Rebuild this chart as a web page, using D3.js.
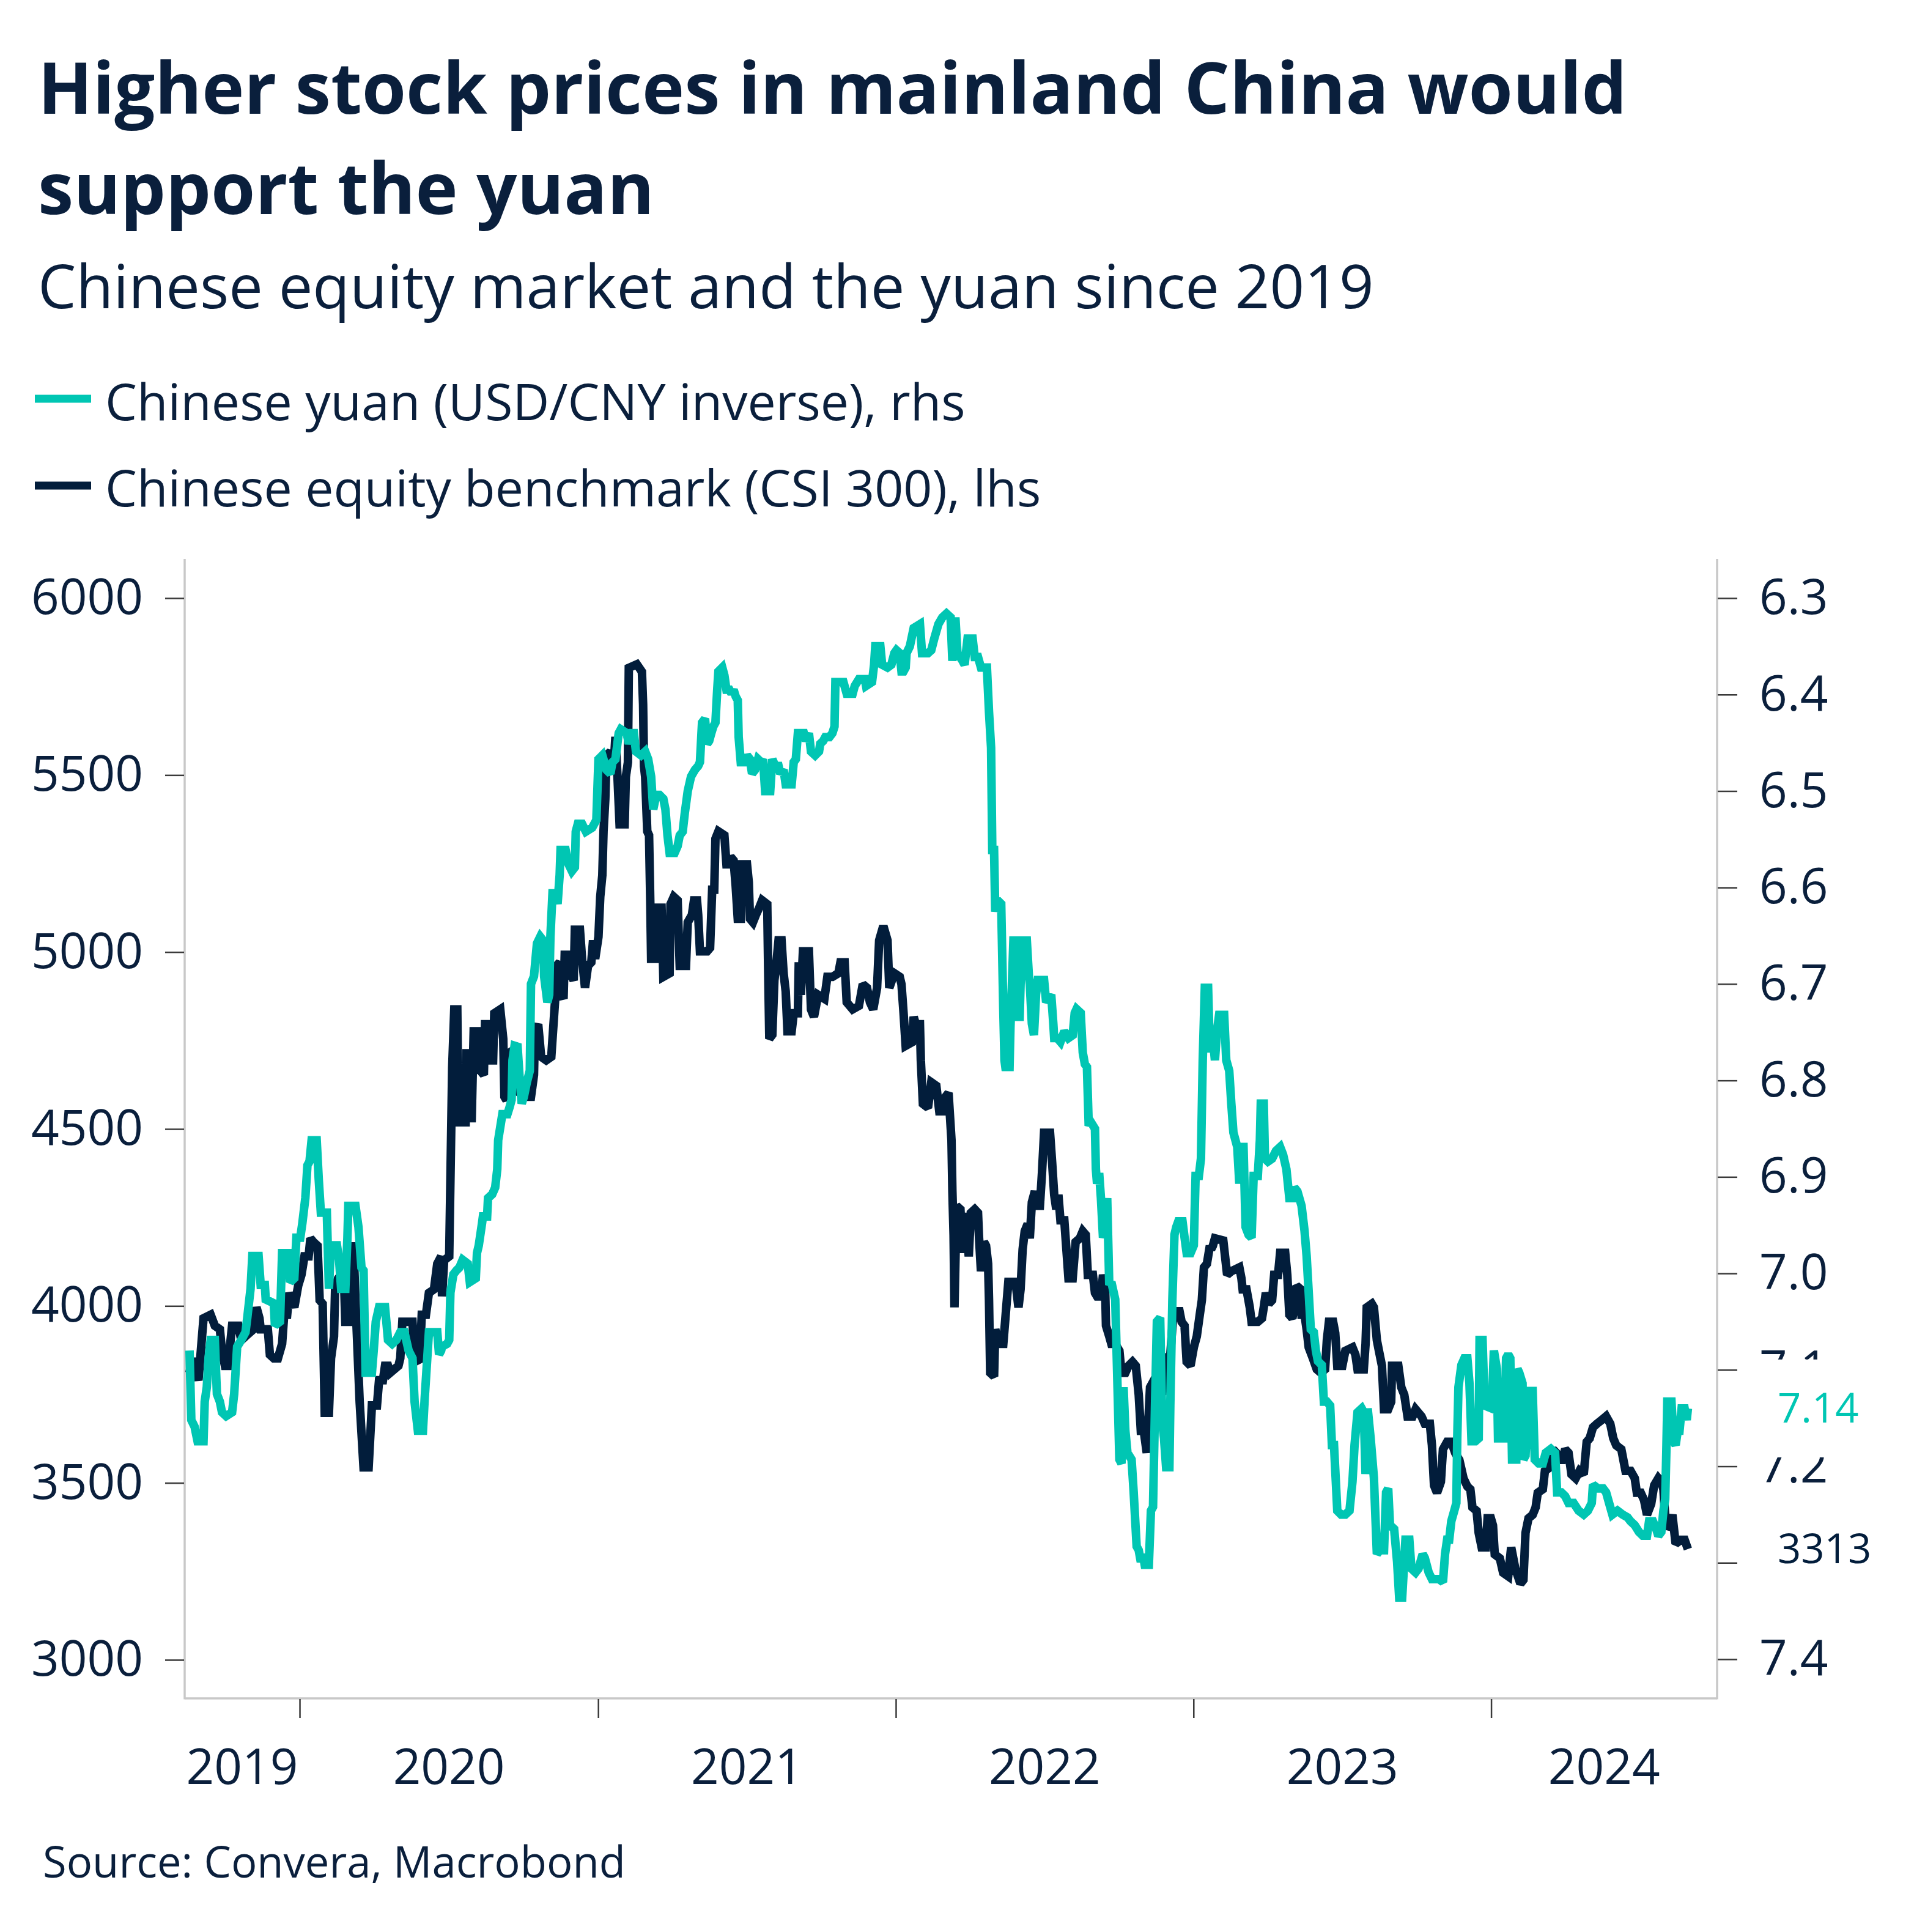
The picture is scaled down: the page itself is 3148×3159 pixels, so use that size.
<!DOCTYPE html>
<html><head><meta charset="utf-8">
<script src="https://cdn.jsdelivr.net/npm/d3@7"></script>
<style>body{margin:0;background:#fff}svg{display:block}text{font-family:'Open Sans',sans-serif}</style>
</head><body>
<svg id="chart" width="3148" height="3159"></svg>
<script>
const titleLines = ["Higher stock prices in mainland China would", "support the yuan"];
const subtitle = "Chinese equity market and the yuan since 2019";
const seriesNames = ["Chinese yuan (USD/CNY inverse), rhs", "Chinese equity benchmark (CSI 300), lhs"];
const sourceNote = "Source: Convera, Macrobond";
const yearLabels = ["2019", "2020", "2021", "2022", "2023", "2024"];
const yearTicks = ["2020-01-01", "2021-01-01", "2022-01-01", "2023-01-01", "2024-01-01"];
const xDomain = ["2019-08-13", "2024-10-04"];
const leftTicks = [3000, 3500, 4000, 4500, 5000, 5500, 6000];
const rightTicks = [6.3, 6.4, 6.5, 6.6, 6.7, 6.8, 6.9, 7.0, 7.1, 7.2, 7.3, 7.4];
const hiddenRightLabels = [7.3]; // fully covered by the end-value label in the original

// CSI 300 index level, [decimal year, value]
const csi = [
[2019.630,3811],[2019.640,3852],[2019.660,3790],[2019.677,3965],[2019.701,3975],[2019.715,3944],[2019.732,3934],[2019.739,3873],[2019.749,3831],[2019.759,3831],[2019.773,3944],[2019.794,3944],[2019.804,3903],[2019.818,3914],[2019.845,3934],[2019.855,3996],[2019.865,3965],[2019.869,3934],[2019.893,3934],[2019.900,3862],[2019.913,3852],[2019.927,3852],[2019.941,3893],[2019.948,3975],[2019.958,3975],[2019.965,4037],[2019.982,3996],[2019.995,4057],[2020.006,4088],[2020.016,4140],[2020.030,4140],[2020.036,4191],[2020.047,4180],[2020.060,4170],[2020.067,4016],[2020.077,4006],[2020.084,3698],[2020.098,3698],[2020.105,3852],[2020.115,3914],[2020.119,4057],[2020.129,4078],[2020.139,4088],[2020.146,4140],[2020.153,3955],[2020.170,3955],[2020.180,4180],[2020.187,4016],[2020.201,3729],[2020.214,3544],[2020.231,3544],[2020.242,3719],[2020.259,3719],[2020.266,3790],[2020.279,3790],[2020.286,3831],[2020.296,3831],[2020.303,3811],[2020.331,3831],[2020.337,3852],[2020.344,3955],[2020.378,3955],[2020.385,3852],[2020.402,3842],[2020.409,3975],[2020.423,3975],[2020.433,4037],[2020.450,4047],[2020.461,4119],[2020.474,4140],
[2020.477,4027],[2020.484,4129],[2020.501,4140],[2020.511,4673],[2020.518,4838],[2020.528,4838],[2020.532,4519],[2020.556,4519],[2020.559,4714],[2020.570,4714],[2020.576,4519],[2020.583,4776],[2020.600,4776],[2020.607,4663],[2020.617,4653],[2020.621,4796],[2020.634,4796],[2020.638,4694],[2020.648,4694],[2020.652,4827],[2020.672,4838],[2020.682,4755],[2020.686,4591],[2020.693,4581],[2020.700,4714],[2020.720,4725],[2020.727,4694],[2020.737,4602],[2020.754,4591],[2020.775,4591],[2020.785,4653],[2020.788,4776],[2020.799,4796],[2020.809,4704],[2020.826,4694],[2020.843,4704],[2020.857,4879],[2020.860,4961],[2020.871,4971],[2020.877,4879],[2020.884,4868],[2020.888,4992],[2020.905,4992],[2020.912,4930],[2020.918,4920],[2020.922,5063],[2020.939,5063],[2020.946,4981],[2020.956,4899],[2020.966,4961],[2020.977,4971],[2020.983,5033],[2020.990,4981],[2021.001,5043],[2021.007,5156],[2021.014,5217],[2021.018,5341],[2021.024,5433],[2021.028,5556],[2021.041,5566],[2021.048,5525],[2021.055,5566],[2021.058,5608],[2021.065,5495],[2021.072,5361],[2021.089,5361],[2021.093,5495],[2021.100,5536],[2021.103,5803],[2021.130,5813],[2021.147,5792],[2021.151,5700],[2021.154,5525],[2021.158,5495],[2021.165,5341],[2021.171,5330],[2021.175,5146],[2021.178,4981],[2021.199,4981],[2021.202,5125],[2021.213,5125],[2021.219,4930],[2021.240,4940],[2021.243,5135],[2021.254,5156],[2021.267,5146],[2021.274,4961],[2021.295,4961],[2021.301,5084],[2021.315,5105],[2021.322,5146],[2021.332,5146],[2021.336,5105],
[2021.342,5002],[2021.366,5002],[2021.376,5012],[2021.383,5176],[2021.390,5176],[2021.394,5320],[2021.404,5341],[2021.424,5330],[2021.431,5248],[2021.438,5248],[2021.445,5269],[2021.455,5259],[2021.462,5187],[2021.469,5094],[2021.479,5094],[2021.482,5248],[2021.500,5248],[2021.506,5197],[2021.510,5094],[2021.520,5084],[2021.530,5105],[2021.541,5125],[2021.551,5146],[2021.568,5135],[2021.571,4961],[2021.575,4755],[2021.585,4766],[2021.592,4920],[2021.599,4971],[2021.606,5033],[2021.616,5033],[2021.623,4940],[2021.630,4889],[2021.636,4776],[2021.650,4776],[2021.657,4827],[2021.671,4827],[2021.674,4971],[2021.681,4879],[2021.688,5002],[2021.708,5002],[2021.715,4838],[2021.725,4817],[2021.739,4879],[2021.760,4868],[2021.770,4930],[2021.787,4930],[2021.807,4940],[2021.814,4971],[2021.828,4971],[2021.835,4858],[2021.855,4838],[2021.876,4848],[2021.889,4909],[2021.903,4899],[2021.913,4858],[2021.924,4838],[2021.937,4899],[2021.944,5033],[2021.958,5074],[2021.972,5033],[2021.978,4899],[2021.995,4940],[2022.013,4930],[2022.019,4909],[2022.026,4827],[2022.033,4735],[2022.054,4745],[2022.060,4817],[2022.067,4796],[2022.081,4796],[2022.084,4694],[2022.091,4571],[2022.108,4560],[2022.119,4632],[2022.136,4622],[2022.146,4550],[2022.156,4550],[2022.167,4591],[2022.177,4602],[2022.187,4468],[2022.190,4324],[2022.194,4201],[2022.197,3996],
[2022.204,4283],[2022.217,4273],[2022.224,4150],[2022.235,4263],[2022.245,4140],[2022.252,4263],[2022.265,4273],[2022.276,4263],[2022.279,4201],[2022.286,4098],[2022.296,4181],[2022.303,4170],[2022.310,4119],[2022.313,4016],[2022.317,3811],[2022.330,3801],[2022.334,3934],[2022.344,3893],[2022.361,3893],[2022.368,3965],[2022.378,4068],[2022.402,4068],[2022.412,3996],[2022.419,4047],[2022.426,4160],[2022.433,4211],[2022.443,4232],[2022.450,4191],[2022.457,4293],[2022.467,4324],[2022.474,4283],[2022.484,4283],[2022.491,4376],[2022.498,4489],[2022.518,4489],[2022.525,4406],[2022.532,4314],[2022.539,4273],[2022.546,4314],[2022.553,4242],[2022.566,4242],[2022.573,4160],[2022.580,4078],[2022.594,4078],[2022.604,4181],[2022.618,4191],[2022.628,4211],[2022.638,4201],[2022.645,4088],[2022.662,4088],[2022.669,4037],[2022.676,4027],[2022.689,4027],[2022.696,4088],[2022.703,4057],[2022.706,3944],[2022.717,3914],[2022.724,3893],[2022.737,3893],[2022.751,3873],[2022.758,3811],[2022.771,3811],[2022.782,3831],[2022.795,3842],[2022.806,3831],[2022.816,3749],[2022.823,3647],[2022.833,3647],[2022.843,3585],[2022.854,3770],[2022.867,3790],[2022.881,3780],[2022.895,3749],[2022.901,3831],[2022.908,3852],[2022.922,3862],[2022.932,3975],[2022.936,3985],[2022.953,3985],[2022.960,3955],[2022.970,3944],[2022.977,3842],[2022.990,3831],[2023.001,3883],[2023.011,3914],[2023.021,3975],[2023.028,4016],[2023.035,4109],[2023.045,4119],[2023.055,4170],
[2023.059,4160],[2023.065,4170],[2023.072,4191],[2023.100,4185],[2023.106,4140],[2023.113,4088],[2023.127,4098],[2023.154,4109],[2023.161,4078],[2023.165,4047],[2023.178,4047],[2023.189,3996],[2023.195,3955],[2023.216,3955],[2023.230,3965],[2023.236,3996],[2023.243,4037],[2023.253,4006],[2023.264,4016],[2023.271,4088],[2023.284,4088],[2023.291,4150],[2023.308,4150],[2023.315,4088],[2023.322,3975],[2023.332,3965],[2023.339,3996],[2023.346,4057],[2023.360,4047],[2023.363,3975],[2023.373,3975],[2023.380,3934],[2023.387,3883],[2023.401,3852],[2023.414,3821],[2023.428,3811],[2023.442,3821],[2023.448,3903],[2023.455,3955],[2023.469,3955],[2023.476,3924],[2023.483,3831],[2023.500,3831],[2023.510,3873],[2023.534,3883],[2023.544,3862],[2023.551,3821],[2023.572,3821],[2023.578,3893],[2023.582,3996],[2023.599,4006],[2023.606,3996],[2023.616,3903],[2023.623,3873],[2023.633,3831],[2023.640,3708],[2023.654,3708],[2023.664,3729],[2023.667,3831],[2023.688,3831],[2023.698,3770],[2023.708,3749],[2023.719,3688],[2023.736,3688],[2023.746,3708],[2023.766,3688],[2023.777,3667],[2023.794,3667],[2023.801,3606],[2023.808,3493],[2023.818,3472],[2023.831,3503],[2023.838,3595],[2023.852,3616],[2023.866,3616],[2023.879,3585],[2023.893,3565],[2023.907,3513],
[2023.920,3490],[2023.930,3482],[2023.937,3431],[2023.951,3421],[2023.958,3359],[2023.968,3318],[2023.982,3318],[2023.988,3400],[2023.999,3400],[2024.006,3380],[2024.012,3298],[2024.029,3287],[2024.040,3246],[2024.057,3236],[2024.067,3318],[2024.081,3257],[2024.098,3215],[2024.108,3226],[2024.115,3359],[2024.125,3400],[2024.139,3410],[2024.149,3431],[2024.156,3472],[2024.173,3482],[2024.180,3534],[2024.197,3544],[2024.207,3595],[2024.218,3585],[2024.228,3565],[2024.238,3565],[2024.248,3595],[2024.259,3585],[2024.269,3524],[2024.283,3513],[2024.296,3534],[2024.310,3524],[2024.320,3616],[2024.330,3626],[2024.341,3657],[2024.354,3667],[2024.371,3678],[2024.385,3688],[2024.399,3667],[2024.409,3626],[2024.419,3606],[2024.436,3595],[2024.450,3534],[2024.467,3534],[2024.481,3513],[2024.488,3472],[2024.501,3472],[2024.512,3452],[2024.522,3410],[2024.536,3441],[2024.546,3493],[2024.560,3513],[2024.570,3503],[2024.577,3482],[2024.580,3441],[2024.587,3370],[2024.601,3390],[2024.607,3410],[2024.618,3328],[2024.635,3339],[2024.648,3339],[2024.659,3313]
];

// USD/CNY rate (plotted on inverted right axis), [decimal year, value]
const cny = [
[2019.630,7.080],[2019.636,7.152],[2019.647,7.159],[2019.657,7.174],[2019.677,7.174],[2019.681,7.133],[2019.688,7.118],[2019.694,7.088],[2019.701,7.069],[2019.715,7.069],[2019.722,7.125],[2019.732,7.133],[2019.739,7.144],[2019.753,7.148],[2019.773,7.144],[2019.780,7.125],[2019.790,7.076],[2019.804,7.069],[2019.818,7.061],[2019.824,7.046],[2019.835,7.016],[2019.841,6.982],[2019.862,6.982],[2019.869,7.012],[2019.883,7.012],[2019.886,7.027],[2019.913,7.031],[2019.917,7.054],[2019.934,7.050],[2019.941,6.979],[2019.961,6.979],[2019.968,7.009],[2019.982,7.005],[2019.989,6.963],[2020.002,6.963],[2020.009,6.948],[2020.019,6.922],[2020.026,6.888],[2020.033,6.884],[2020.040,6.862],[2020.057,6.862],[2020.064,6.903],[2020.071,6.937],[2020.091,6.937],[2020.098,7.016],[2020.105,6.971],[2020.125,6.971],[2020.132,6.986],[2020.139,7.016],[2020.153,7.016],[2020.160,6.963],[2020.163,6.930],[2020.187,6.930],[2020.197,6.952],[2020.207,6.994],[2020.214,6.997],[2020.221,7.103],[2020.242,7.103],[2020.248,7.080],[2020.255,7.050],[2020.266,7.035],[2020.286,7.035],[2020.296,7.069],[2020.310,7.073],[2020.324,7.069],[2020.337,7.061],[2020.351,7.061],[2020.365,7.080],[2020.378,7.088],[2020.385,7.133],[2020.396,7.163],[2020.413,7.163],[2020.419,7.129],[2020.433,7.061],[2020.461,7.061],[2020.467,7.084],[2020.474,7.080],
[2020.477,7.076],[2020.494,7.073],[2020.501,7.069],[2020.505,7.020],[2020.515,7.001],[2020.525,6.997],[2020.535,6.994],[2020.546,6.986],[2020.563,6.990],[2020.570,7.009],[2020.590,7.005],[2020.594,6.979],[2020.600,6.971],[2020.611,6.948],[2020.614,6.941],[2020.628,6.941],[2020.631,6.922],[2020.645,6.918],[2020.655,6.911],[2020.662,6.892],[2020.665,6.862],[2020.679,6.835],[2020.696,6.835],[2020.703,6.828],[2020.710,6.820],[2020.713,6.779],[2020.720,6.764],[2020.730,6.765],[2020.737,6.798],[2020.744,6.824],[2020.751,6.817],[2020.761,6.802],[2020.771,6.790],[2020.775,6.700],[2020.785,6.692],[2020.795,6.658],[2020.806,6.651],[2020.816,6.655],[2020.819,6.692],[2020.830,6.719],[2020.836,6.711],[2020.840,6.651],[2020.847,6.606],[2020.857,6.606],[2020.864,6.617],[2020.871,6.587],[2020.874,6.561],[2020.891,6.561],[2020.901,6.576],[2020.912,6.583],[2020.922,6.579],[2020.925,6.542],[2020.932,6.534],[2020.946,6.534],[2020.959,6.542],[2020.980,6.538],[2020.994,6.530],[2021.001,6.467],[2021.014,6.463],[2021.028,6.478],[2021.041,6.482],[2021.048,6.470],[2021.058,6.467],[2021.069,6.440],[2021.076,6.436],[2021.096,6.440],[2021.103,6.451],[2021.113,6.440],[2021.120,6.440],[2021.127,6.459],[2021.144,6.463],[2021.158,6.459],[2021.168,6.467],[2021.178,6.485],[2021.185,6.519],[2021.195,6.504],[2021.206,6.504],[2021.219,6.508],[2021.226,6.519],[2021.233,6.546],[2021.240,6.564],[2021.257,6.564],[2021.267,6.557],[2021.274,6.546],[2021.284,6.542],[2021.291,6.523],[2021.301,6.500],[2021.312,6.485],[2021.325,6.478],[2021.336,6.474],
[2021.342,6.470],[2021.349,6.429],[2021.359,6.425],[2021.366,6.451],[2021.373,6.448],[2021.380,6.440],[2021.387,6.433],[2021.394,6.429],[2021.400,6.395],[2021.404,6.376],[2021.417,6.372],[2021.424,6.380],[2021.431,6.395],[2021.441,6.395],[2021.448,6.399],[2021.455,6.395],[2021.462,6.402],[2021.469,6.406],[2021.472,6.444],[2021.479,6.470],[2021.493,6.470],[2021.500,6.463],[2021.510,6.467],[2021.517,6.482],[2021.527,6.478],[2021.537,6.467],[2021.547,6.470],[2021.554,6.467],[2021.561,6.500],[2021.578,6.500],[2021.585,6.467],[2021.595,6.474],[2021.606,6.474],[2021.612,6.482],[2021.623,6.478],[2021.630,6.493],[2021.650,6.493],[2021.657,6.470],[2021.664,6.467],[2021.671,6.440],[2021.691,6.440],[2021.698,6.448],[2021.708,6.440],[2021.715,6.459],[2021.729,6.463],[2021.742,6.459],[2021.746,6.451],[2021.756,6.448],[2021.763,6.444],[2021.777,6.444],[2021.787,6.440],[2021.794,6.433],[2021.797,6.387],[2021.824,6.387],[2021.835,6.399],[2021.855,6.399],[2021.862,6.391],[2021.876,6.384],[2021.896,6.384],[2021.900,6.391],[2021.920,6.387],[2021.927,6.369],[2021.931,6.350],[2021.948,6.350],[2021.954,6.369],[2021.972,6.372],[2021.985,6.369],[2021.995,6.357],[2022.002,6.354],[2022.013,6.357],[2022.019,6.376],[2022.026,6.376],[2022.033,6.372],[2022.036,6.357],[2022.047,6.350],[2022.060,6.331],[2022.081,6.327],[2022.088,6.357],[2022.108,6.357],[2022.119,6.354],[2022.129,6.342],[2022.143,6.327],[2022.156,6.320],[2022.170,6.316],[2022.184,6.320],[2022.190,6.365],
[2022.200,6.320],[2022.207,6.357],[2022.224,6.365],[2022.231,6.369],[2022.241,6.342],[2022.258,6.342],[2022.265,6.361],[2022.276,6.361],[2022.286,6.372],[2022.306,6.372],[2022.313,6.418],[2022.320,6.455],[2022.324,6.561],[2022.330,6.561],[2022.334,6.625],[2022.341,6.613],[2022.354,6.617],[2022.361,6.726],[2022.365,6.779],[2022.368,6.786],[2022.382,6.786],[2022.385,6.745],[2022.395,6.655],[2022.406,6.655],[2022.409,6.734],[2022.416,6.734],[2022.423,6.655],[2022.440,6.655],[2022.447,6.692],[2022.450,6.700],[2022.457,6.741],[2022.464,6.753],[2022.471,6.711],[2022.477,6.696],[2022.498,6.696],[2022.505,6.719],[2022.522,6.711],[2022.529,6.741],[2022.532,6.756],[2022.542,6.756],[2022.553,6.760],[2022.566,6.749],[2022.580,6.756],[2022.594,6.753],[2022.601,6.730],[2022.607,6.726],[2022.621,6.730],[2022.628,6.771],[2022.635,6.783],[2022.642,6.786],[2022.648,6.847],[2022.655,6.843],[2022.669,6.850],[2022.672,6.892],[2022.676,6.907],[2022.683,6.896],[2022.689,6.922],[2022.696,6.963],[2022.703,6.956],[2022.710,6.922],[2022.717,7.012],[2022.724,7.009],[2022.737,7.027],[2022.741,7.073],[2022.751,7.193],[2022.758,7.197],[2022.765,7.118],[2022.771,7.163],[2022.778,7.186],[2022.792,7.193],[2022.799,7.227],[2022.809,7.283],[2022.816,7.287],[2022.823,7.299],[2022.830,7.291],[2022.836,7.302],[2022.850,7.302],[2022.857,7.246],[2022.864,7.242],[2022.871,7.133],[2022.877,7.050],[2022.888,7.046],[2022.895,7.155],[2022.901,7.171],[2022.908,7.201],[2022.919,7.201],[2022.922,7.137],[2022.929,7.027],[2022.936,6.960],[2022.942,6.952],[2022.949,6.946],[2022.963,6.946],[2022.970,6.963],[2022.977,6.979],[2022.990,6.979],[2023.001,6.971],[2023.007,6.899],[2023.018,6.899],[2023.025,6.881],[2023.031,6.779],[2023.038,6.704],[2023.049,6.704],[2023.055,6.771],
[2023.059,6.749],[2023.065,6.756],[2023.072,6.779],[2023.079,6.749],[2023.086,6.732],[2023.103,6.732],[2023.110,6.779],[2023.120,6.790],[2023.127,6.824],[2023.134,6.854],[2023.147,6.869],[2023.154,6.907],[2023.161,6.869],[2023.168,6.869],[2023.175,6.952],[2023.185,6.960],[2023.195,6.963],[2023.202,6.899],[2023.216,6.899],[2023.223,6.862],[2023.226,6.824],[2023.236,6.824],[2023.240,6.881],[2023.250,6.884],[2023.264,6.881],[2023.277,6.873],[2023.291,6.869],[2023.301,6.877],[2023.312,6.892],[2023.322,6.922],[2023.332,6.922],[2023.339,6.911],[2023.349,6.915],[2023.363,6.930],[2023.373,6.956],[2023.380,6.982],[2023.387,7.020],[2023.394,7.058],[2023.404,7.061],[2023.411,7.080],[2023.418,7.091],[2023.431,7.095],[2023.438,7.133],[2023.448,7.133],[2023.459,7.137],[2023.465,7.178],[2023.472,7.178],[2023.483,7.246],[2023.496,7.250],[2023.510,7.250],[2023.524,7.246],[2023.534,7.216],[2023.541,7.178],[2023.551,7.144],[2023.565,7.140],[2023.572,7.144],[2023.578,7.208],[2023.585,7.140],[2023.595,7.171],[2023.606,7.212],[2023.616,7.291],[2023.626,7.287],[2023.640,7.287],[2023.647,7.227],[2023.654,7.223],[2023.660,7.261],[2023.674,7.265],[2023.684,7.299],[2023.691,7.336],[2023.701,7.336],[2023.712,7.276],[2023.725,7.276],[2023.732,7.306],[2023.746,7.310],[2023.756,7.306],[2023.770,7.291],[2023.777,7.295],[2023.790,7.310],[2023.801,7.317],[2023.825,7.317],[2023.838,7.320],[2023.845,7.291],[2023.852,7.276],[2023.859,7.276],[2023.866,7.257],[2023.876,7.246],[2023.883,7.238],[2023.886,7.171],[2023.890,7.118],[2023.900,7.095],[2023.910,7.088],
[2023.920,7.088],[2023.927,7.114],[2023.934,7.174],[2023.947,7.174],[2023.958,7.171],[2023.961,7.069],[2023.971,7.069],[2023.978,7.137],[2024.002,7.140],[2024.009,7.080],[2024.019,7.099],[2024.023,7.171],[2024.043,7.171],[2024.050,7.088],[2024.057,7.084],[2024.064,7.088],[2024.070,7.193],[2024.084,7.193],[2024.088,7.099],[2024.094,7.103],[2024.105,7.114],[2024.108,7.193],[2024.115,7.189],[2024.125,7.122],[2024.139,7.122],[2024.146,7.193],[2024.159,7.197],[2024.173,7.197],[2024.183,7.186],[2024.200,7.182],[2024.214,7.186],[2024.221,7.227],[2024.235,7.227],[2024.248,7.231],[2024.259,7.238],[2024.276,7.238],[2024.293,7.246],[2024.310,7.250],[2024.324,7.246],[2024.337,7.238],[2024.341,7.219],[2024.358,7.223],[2024.375,7.223],[2024.385,7.227],[2024.395,7.238],[2024.406,7.250],[2024.423,7.246],[2024.440,7.250],[2024.457,7.253],[2024.467,7.257],[2024.481,7.261],[2024.495,7.268],[2024.508,7.272],[2024.522,7.272],[2024.529,7.257],[2024.542,7.257],[2024.553,7.265],[2024.560,7.272],[2024.570,7.268],[2024.577,7.246],[2024.583,7.234],[2024.587,7.182],[2024.590,7.133],[2024.604,7.133],[2024.611,7.174],[2024.618,7.178],[2024.625,7.163],[2024.631,7.163],[2024.638,7.140],[2024.648,7.140],[2024.655,7.152],[2024.659,7.140]
];

const TEAL = "#00c6b3", NAVY = "#021d3b", TEXT = "#0a1f3c", AXIS = "#c8c8c8", TICK = "#3a3a3a";
const plot = {left: 302, right: 2808, top: 914, bottom: 2777};

function toDate(t) {
  const y = Math.floor(t);
  const a = new Date(y, 0, 1), b = new Date(y + 1, 0, 1);
  return new Date(+a + (t - y) * (b - a));
}
const parse = d3.timeParse("%Y-%m-%d");

const svg = d3.select("#chart");
svg.append("rect").attr("width", 3148).attr("height", 3159).attr("fill", "#fff");

const x = d3.scaleTime().domain(xDomain.map(parse)).range([plot.left, plot.right]);
const yL = d3.scaleLinear().domain([3000, 6000]).range([2714, 978]);
const yR = d3.scaleLinear().domain([6.3, 7.4]).range([978, 2713]);

function fit(sel, target) {
  const len = sel.node().getComputedTextLength();
  const fs = parseFloat(sel.attr("font-size"));
  sel.attr("font-size", fs * target / len);
  return fs * target / len;
}

// Titles
const t1 = svg.append("text").attr("x", 62).attr("y", 186).attr("font-size", 124).attr("font-weight", 700).attr("fill", TEXT).text(titleLines[0]);
const tfs = fit(t1, 2599);
svg.append("text").attr("x", 62).attr("y", 350).attr("font-size", tfs).attr("font-weight", 700).attr("fill", TEXT).text(titleLines[1]);
const st = svg.append("text").attr("x", 62).attr("y", 504).attr("font-size", 100).attr("fill", TEXT).text(subtitle);
fit(st, 2185);

// Legend
const legY = [652, 794], legBase = [687, 828];
const legColors = [TEAL, NAVY];
let lfs = 84;
seriesNames.forEach((n, i) => {
  svg.append("line").attr("x1", 57).attr("x2", 149).attr("y1", legY[i]).attr("y2", legY[i])
    .attr("stroke", legColors[i]).attr("stroke-width", 13);
  const lt = svg.append("text").attr("x", 172).attr("y", legBase[i]).attr("font-size", lfs).attr("fill", TEXT).text(n);
  if (i === 0) lfs = fit(lt, 1407); else lt.attr("font-size", lfs);
});

// Frame
const frame = svg.append("g").attr("stroke", AXIS).attr("stroke-width", 3.5).attr("fill", "none");
frame.append("line").attr("x1", plot.left).attr("x2", plot.left).attr("y1", plot.top).attr("y2", plot.bottom + 1.5);
frame.append("line").attr("x1", plot.right).attr("x2", plot.right).attr("y1", plot.top).attr("y2", plot.bottom + 1.5);
frame.append("line").attr("x1", plot.left).attr("x2", plot.right).attr("y1", plot.bottom).attr("y2", plot.bottom);

function styleAxis(g) {
  g.select(".domain").remove();
  g.selectAll(".tick line").attr("stroke", TICK).attr("stroke-width", 2.5);
  g.selectAll(".tick text").attr("fill", TEXT).attr("font-size", 80).attr("font-family", "'Open Sans',sans-serif");
}

svg.append("g").attr("transform", `translate(${plot.left - 1},0)`)
  .call(d3.axisLeft(yL).tickValues(leftTicks).tickSize(31).tickPadding(36).tickFormat(d3.format("d")))
  .call(styleAxis);
const fmtR = d3.format(".1f");
svg.append("g").attr("transform", `translate(${plot.right + 1},0)`)
  .call(d3.axisRight(yR).tickValues(rightTicks).tickSize(32).tickPadding(36)
    .tickFormat(d => hiddenRightLabels.some(h => Math.abs(h - d) < 1e-9) ? "" : fmtR(d)))
  .call(styleAxis);
svg.append("g").attr("transform", `translate(0,${plot.bottom + 1})`)
  .call(d3.axisBottom(x).tickValues(yearTicks.map(parse)).tickSize(31).tickFormat(""))
  .call(styleAxis);

// Year labels centred in each visible year span
yearLabels.forEach(lbl => {
  const y0 = +lbl;
  const a = Math.max(x(new Date(y0, 0, 1)), plot.left);
  const b = Math.min(x(new Date(y0 + 1, 0, 1)), plot.right);
  svg.append("text").attr("x", (a + b) / 2).attr("y", 2917).attr("text-anchor", "middle")
    .attr("font-size", 80).attr("fill", TEXT).text(lbl);
});

// Lines
const gLines = svg.append("g").attr("fill", "none").attr("stroke-width", 14)
  .attr("stroke-linejoin", "miter").attr("stroke-miterlimit", 2);
gLines.append("path").datum(csi).attr("stroke", NAVY)
  .attr("d", d3.line().x(d => x(toDate(d[0]))).y(d => yL(d[1])));
gLines.append("path").datum(cny).attr("stroke", TEAL)
  .attr("d", d3.line().x(d => x(toDate(d[0]))).y(d => yR(d[1])));

// End labels with white backing
const lastC = cny[cny.length - 1], lastS = csi[csi.length - 1];
const ends = [
  {y: yR(lastC[1]), txt: d3.format(".2f")(lastC[1]), col: TEAL},
  {y: yL(lastS[1]), txt: d3.format("d")(lastS[1]), col: NAVY}
];
ends.forEach(e => {
  svg.append("rect").attr("x", 2858).attr("y", e.y - 80).attr("width", 260).attr("height", 160).attr("fill", "#fff");
  svg.append("text").attr("x", 2907).attr("y", e.y).attr("dy", "0.35em").attr("font-size", 67)
    .attr("fill", e.col).text(e.txt);
});

// Source
const src = svg.append("text").attr("x", 70).attr("y", 3070).attr("font-size", 72).attr("fill", TEXT).text(sourceNote);
fit(src, 953);
</script>
</body></html>
